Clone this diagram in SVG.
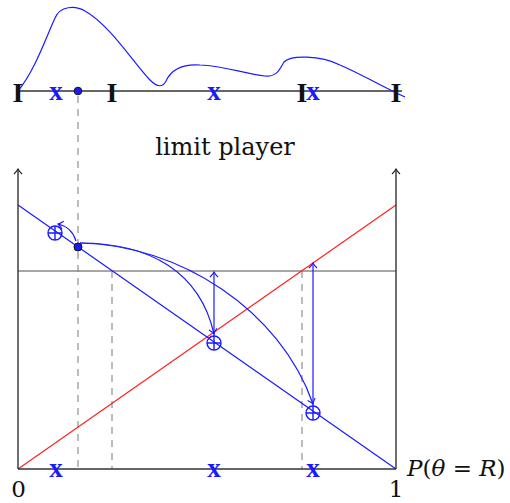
<svg xmlns="http://www.w3.org/2000/svg" width="510" height="503" viewBox="0 0 510 503">
<style>
.ax{stroke:#333;stroke-width:1.4;fill:none}
.gr{stroke:#888;stroke-width:1.3;fill:none}
.dash{stroke:#999;stroke-width:1.3;stroke-dasharray:7,6;fill:none}
.bl{stroke:#1a1aff;stroke-width:1.2;fill:none}
.rd{stroke:#ff2020;stroke-width:1.2;fill:none}
.xl{font-family:"Liberation Serif",serif;font-weight:bold;font-size:27px;fill:#1a1aff;text-anchor:middle}
.il{font-family:"Liberation Serif",serif;font-weight:bold;font-size:28px;fill:#111;text-anchor:middle}
.lb{font-family:"DejaVu Serif",serif;fill:#111}
</style>
<defs>
<marker id="ah" markerUnits="userSpaceOnUse" markerWidth="12" markerHeight="12" viewBox="-8 -6 10 12" refX="0" refY="0" orient="auto">
<path d="M-5,-4 Q-2,-1 0,0 Q-2,1 -5,4" stroke="#1a1aff" stroke-width="1.1" fill="none"/>
</marker>
<marker id="ak" markerUnits="userSpaceOnUse" markerWidth="12" markerHeight="12" viewBox="-8 -6 10 12" refX="0" refY="0" orient="auto">
<path d="M-5,-4 Q-2,-1 0,0 Q-2,1 -5,4" stroke="#222" stroke-width="1.1" fill="none"/>
</marker>
<g id="oplus">
<circle cx="0" cy="0" r="7" stroke="#1a1aff" stroke-width="1.4" fill="none"/>
<path d="M-7,0 H7 M0,-7 V7" stroke="#1a1aff" stroke-width="1.4"/>
</g>
</defs>

<g id="top-distribution">
<line x1="18" y1="91" x2="402" y2="91" class="ax"/>
<path class="bl" d="M18,91 C35,70 45,40 55,18 C60,6 75,5 85,11 C110,25 135,65 150,80 C158,88 163,87 166,81 C172,68 185,64 200,65 C225,66 245,74 265,76 C278,77 280,68 284,62 C290,55 320,55 340,65 C365,76 385,88 405,97"/>
<text class="il" x="18" y="102">I</text>
<text class="il" x="112" y="102">I</text>
<text class="il" x="302" y="102">I</text>
<text class="il" x="396" y="102">I</text>
<text class="xl" x="56" y="100">x</text>
<text class="xl" x="214" y="100">x</text>
<text class="xl" x="313" y="100">x</text>
</g>

<text class="lb" x="225" y="155" text-anchor="middle" style="font-size:24px">limit player</text>

<g id="connectors">
<line class="dash" x1="78" y1="96" x2="78" y2="469"/>
<line class="dash" x1="112" y1="271" x2="112" y2="469"/>
<line class="dash" x1="302" y1="271" x2="302" y2="469"/>
<line class="gr" x1="18" y1="271" x2="396" y2="271"/>
<line class="rd" x1="18" y1="469" x2="396" y2="205"/>
<line class="bl" x1="18" y1="205" x2="396" y2="469"/>
<path class="bl" d="M80,243 C150,243 200,272 214,334" marker-end="url(#ah)"/>
<path class="bl" d="M80,243 C180,245 280,310 313,404" marker-end="url(#ah)"/>
<path class="bl" d="M76,241 C73,231 67,226 58,224" marker-end="url(#ah)"/>
<line class="bl" x1="214" y1="336" x2="214" y2="272" marker-end="url(#ah)"/>
<line class="bl" x1="313" y1="406" x2="313" y2="263" marker-end="url(#ah)"/>
</g>

<g id="axes">
<line class="ax" x1="18" y1="469" x2="18" y2="169" marker-end="url(#ak)"/>
<line class="ax" x1="396" y1="469" x2="396" y2="169" marker-end="url(#ak)"/>
<line class="ax" x1="18" y1="469" x2="396" y2="469"/>
</g>

<g id="top-dot"><circle cx="78" cy="91" r="3.8" fill="#1a1aff" stroke="#111" stroke-width="1"/></g>
<g id="dot"><circle cx="78" cy="247" r="4" fill="#1a1aff" stroke="#111" stroke-width="1"/></g>
<g id="eq1"><use href="#oplus" x="55" y="233"/></g>
<g id="eq2"><use href="#oplus" x="214" y="343"/></g>
<g id="eq3"><use href="#oplus" x="313" y="413"/></g>

<g id="labels">
<text class="xl" x="56" y="477">x</text>
<text class="xl" x="214" y="477">x</text>
<text class="xl" x="313" y="477">x</text>
<text class="lb" x="18.5" y="497" text-anchor="middle" style="font-size:23px">0</text>
<text class="lb" x="396" y="497" text-anchor="middle" style="font-size:23px">1</text>
<text class="lb" x="407" y="476" style="font-size:23px"><tspan font-style="italic">P</tspan>(<tspan font-style="italic">θ</tspan> = <tspan font-style="italic">R</tspan>)</text>
</g>
</svg>
